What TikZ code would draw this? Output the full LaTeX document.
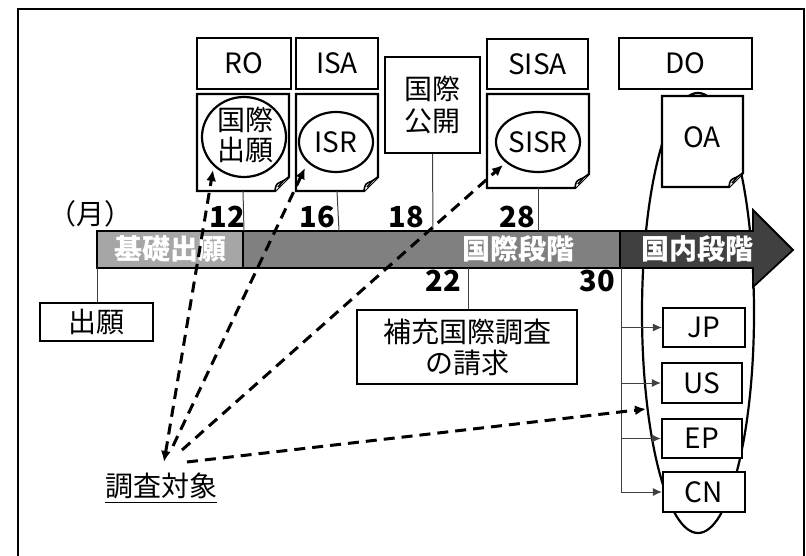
\documentclass[tikz,border=0pt]{standalone}
\usepackage{fontspec}
\setmainfont{Noto Sans CJK JP}
\usetikzlibrary{arrows.meta,shapes.geometric}
\newcommand\mydoc[5]{%
  \draw[docline,fill=white] (#1,#2) -- (#3,#2) -- (#3,#4-14) -- (#3-14,#4) -- (#1,#4) -- cycle;
  \draw[line width=1.6pt,fill=white] (#3-14,#4) .. controls (#3-13,#4-7) .. (#3-6,#4-10) -- (#3,#4-14);
  \draw[line width=1.6pt] (#3-6,#4-10) .. controls (#3-9,#4-6) .. (#3-11,#4-4);
  \coordinate (#5) at ({(#1+#3)/2},#4);}
\tikzset{
  box/.style={draw,line width=2.2pt,fill=white,inner sep=0pt,align=center},
  docline/.style={line width=2.2pt,line join=miter},
  jtxt/.style={font=\fontsize{28}{34}\selectfont},
  num/.style={font=\fontsize{29}{34}\selectfont\bfseries},
  barlbl/.style={font=\fontsize{28}{34}\selectfont\bfseries,text=white},
  thin/.style={line width=1pt,draw=black!75},
  dasharrow/.style={line width=3pt,dash pattern=on 11pt off 7pt,-{Latex[length=11pt,width=10pt]}},
  oval/.style={draw,line width=2.2pt,ellipse,inner sep=0pt},
}
\begin{document}
\begin{tikzpicture}[x=1pt,y=-1pt]
\useasboundingbox (0,0) rectangle (806,556);
\draw[line width=1.5pt] (18,560) -- (18,9) -- (804,9) -- (804,560);

% big ellipse (domestic stage)
\node[oval,minimum width=112pt,minimum height=440pt] (big) at (698,313) {};

% top boxes
\node[box,jtxt,minimum width=94pt,minimum height=51pt] (RO) at (244,63.5) {RO};
\node[box,jtxt,minimum width=82pt,minimum height=51pt] (ISA) at (337,63.5) {ISA};
\node[box,jtxt,minimum width=95pt,minimum height=96pt] (pub) at (432.5,105) {国際\\[-2pt]公開};
\node[box,jtxt,minimum width=101pt,minimum height=50pt] (SISA) at (537.5,64) {SISA};
\node[box,jtxt,minimum width=133pt,minimum height=51pt] (DO) at (685.5,63.5) {DO};

% documents
\mydoc{197}{94}{289}{191}{rob}
\mydoc{296}{94}{378}{191}{isab}
\mydoc{487}{94}{589}{188}{sisab}
\mydoc{662}{96}{743}{187}{oab}
\node[oval,minimum width=84pt,minimum height=80pt] (c1) at (244,137) {};
\node[jtxt,align=center,inner sep=0pt] (t1) at (245,135) {国際\\[-4pt]出願};
\node[oval,minimum width=74pt,minimum height=60pt] (c2) at (336,142) {};
\node[jtxt,inner sep=0pt] (t2) at (336,142) {ISR};
\node[oval,minimum width=84pt,minimum height=60pt] (c3) at (538,142) {};
\node[jtxt,inner sep=0pt] (t3) at (538,142) {SISR};
\node[jtxt,inner sep=0pt] (t4) at (702,137) {OA};

% bar
\coordinate (bartop1) at (244,231);
\coordinate (bartop2) at (339,231);
\coordinate (bartop3) at (433,231);
\coordinate (bartop4) at (538,231);
\draw[line width=1.8pt,fill=black!35] (97,231) rectangle (243,268);
\draw[line width=1.8pt,fill=black!50] (243,231) rectangle (620,268);
\draw[line width=1.8pt,fill=black!75] (620,231) -- (753,231) -- (753,210) -- (793,250) -- (753,287) -- (753,268) -- (620,268) -- cycle;
\node[barlbl] (b1) at (170,249) {基礎出願};
\node[barlbl] (b2) at (518,249) {国際段階};
\node[barlbl] (b3) at (697,249) {国内段階};

% connectors from documents to bar
\draw[thin] (rob) -- (bartop1);
\draw[thin] (isab) -- (bartop2);
\draw[thin] (pub.south) -- (bartop3);
\draw[thin] (sisab) -- (bartop4);

% month numbers
\node[jtxt] (mon) at (90,214) {（月）};
\node[num] (n12) at (227,217) {12};
\node[num] (n16) at (317,217) {16};
\node[num] (n18) at (406,217) {18};
\node[num] (n28) at (517,217) {28};
\node[num] (n22) at (443,281) {22};
\node[num] (n30) at (597,281) {30};

% lower boxes
\node[box,jtxt,minimum width=113pt,minimum height=38pt] (app) at (96.5,322) {出願};
\coordinate (barb1) at (97,268);
\draw[thin] (barb1) -- (app.north -| barb1);
\node[box,jtxt,minimum width=220pt,minimum height=74pt] (sup) at (467,347) {補充国際調査\\[-3pt]の請求};
\coordinate (barb2) at (468,268);
\draw[thin] (barb2) -- (sup.north -| barb2);

% national boxes
\node[box,jtxt,minimum width=82pt,minimum height=39pt] (JP) at (704,327.5) {JP};
\node[box,jtxt,minimum width=80pt,minimum height=40pt] (US) at (702,383) {US};
\node[box,jtxt,minimum width=80pt,minimum height=39pt] (EP) at (702,438.5) {EP};
\node[box,jtxt,minimum width=82pt,minimum height=40pt] (CN) at (704,492) {CN};
\coordinate (v30) at (621,268);
\draw[thin] (v30) -- (v30 |- CN.west);
\foreach \b in {JP,US,EP,CN}
  \draw[thin,-{Latex[length=9pt,width=8pt]}] (v30 |- \b.west) -- (\b.west);

% search targets
\node[jtxt,inner sep=0pt] (tgt) at (161,486) {調査対象};
\draw[line width=1.2pt] (tgt.south west) ++(0,3) coordinate (ul1) -- (ul1 -| tgt.south east);
\coordinate (s1) at (164,462);
\coordinate (s2) at (173,446);
\coordinate (s3) at (182,450);
\coordinate (s4) at (187,462);
\coordinate (e1) at (213,170);
\coordinate (e2) at (305,168);
\coordinate (e3) at (503,165);
\coordinate (e4) at (646,409);
\draw[dasharrow,{Latex[length=11pt,width=10pt]}-{Latex[length=11pt,width=10pt]}] (s1) -- (e1);
\draw[dasharrow] (s2) -- (e2);
\draw[dasharrow] (s3) -- (e3);
\draw[dasharrow] (s4) -- (e4);
\end{tikzpicture}
\end{document}
